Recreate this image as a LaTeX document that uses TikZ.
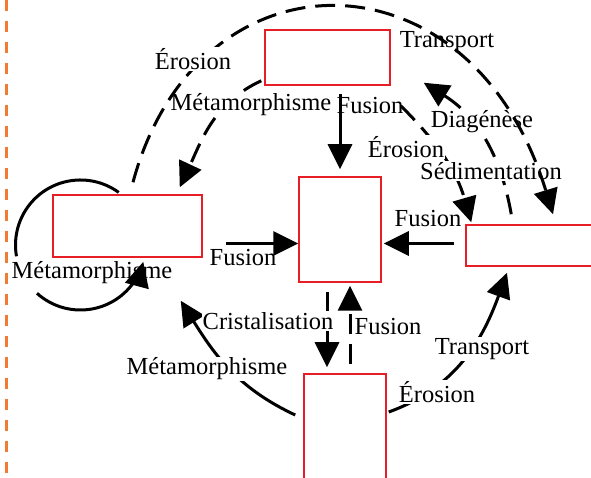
\documentclass[tikz,border=0pt]{standalone}
\usepackage{fontspec}
\setmainfont{Liberation Serif}
\usetikzlibrary{arrows.meta}

\definecolor{rocheRouge}{RGB}{232,30,38}
\definecolor{bordOrange}{RGB}{242,122,50}

\begin{document}
\begin{tikzpicture}[x=1pt,y=1pt,
    roche/.style={draw=rocheRouge, line width=1.5pt, fill=white, inner sep=0pt},
    etiq/.style={inner sep=1pt, font=\fontsize{24.5}{26}\selectfont},
    cache/.style={etiq, fill=white},
    trait/.style={line width=3pt},
    fleche/.style={trait, -{Triangle[length=25pt,width=24pt]}},
    tirets/.style={dash pattern=on 20pt off 10pt}]

    \useasboundingbox (0,0) rectangle (591,478);
    \clip (0,0) rectangle (591,478);

    % Dashed border on the left
    \draw[bordOrange, line width=3pt, dash pattern=on 11pt off 10pt] (6.5,478) -- (6.5,0);

    % Rock boxes
    \foreach \nom/\x/\y/\w/\h in {haut/327.5/420.5/125/55, gauche/127.5/252/149/62,
        centre/340/248.5/82/105, droite/530/232.5/128/41, bas/345/44/82/120} {
        \node[roche, minimum width=\w pt, minimum height=\h pt] (\nom) at (\x,\y) {};
    }

    % Arrows from the top box
    \draw[fleche, tirets] ([xshift=-3pt,yshift=5pt]haut.south west) to[out=205,in=65] ([xshift=-23pt,yshift=7pt]gauche.north east);
    \draw[fleche] ([yshift=82pt]centre.north) -- ([yshift=7pt]centre.north);
    \draw[fleche, tirets] ([xshift=10pt,yshift=-20pt]haut.south east) to[out=-45,in=106] ([xshift=6pt,yshift=2pt]droite.north west);
    \draw[fleche, tirets] ([xshift=46pt,yshift=10pt]droite.north west) to[out=100,in=-32] ([xshift=33pt,yshift=3pt]haut.south east);

    % Fusion into the centre box
    \draw[fleche] ([xshift=-72pt,yshift=-14pt]centre.west) -- ([yshift=-14pt]centre.west);
    \draw[fleche] ([xshift=-11pt,yshift=2pt]droite.west) -- ([xshift=2pt,yshift=-14pt]centre.east);

    % Loop on the left box
    \draw[trait] ([xshift=-47pt,yshift=-19pt]gauche.center) ++(54:65) arc[start angle=54, end angle=190, radius=65pt];
    \draw[fleche] ([xshift=-47pt,yshift=-19pt]gauche.center) ++(228:65) arc[start angle=228, end angle=345, radius=65pt];

    % Centre <-> bottom
    \draw[fleche, tirets] ([xshift=-13pt,yshift=-9pt]centre.south) -- ([xshift=-18pt,yshift=6pt]bas.north);
    \draw[fleche, tirets] ([xshift=5pt,yshift=9pt]bas.north) -- ([xshift=10pt,yshift=-3pt]centre.south);

    % From the bottom box
    \draw[fleche] ([xshift=-8pt,yshift=19pt]bas.west) to[out=155,in=-58] ([xshift=-22pt,yshift=-43pt]gauche.south east);
    \draw[fleche] ([xshift=2pt,yshift=22pt]bas.east) to[out=20,in=-110] ([xshift=-23pt,yshift=-6pt]droite.south);

    % Labels hiding the lines
    \foreach \nom/\x/\y/\t in {metaA/251/373/Métamorphisme, erosionB/406/331/Érosion,
        sedim/491/307/Sédimentation, diag/482/356/Diagénèse, cristal/268/157/Cristalisation,
        metaC/207/109/Métamorphisme, erosionC/437/86/Érosion, transportB/482/129/Transport} {
        \node[cache] (\nom) at (\x,\y) {\t};
    }

    % Big arc over the top
    \draw[fleche, tirets] ([xshift=5.5pt,yshift=12pt]gauche.north) .. controls (197,533) and (471,533) .. ([xshift=23pt,yshift=10pt]droite.north);
    \node[cache] (erosionA) at (193,419) {Érosion};

    % Other labels
    \foreach \nom/\x/\y/\t in {transportA/447/436/Transport, fusionA/370/372/Fusion,
        fusionB/243/220/Fusion, fusionC/428/259/Fusion, metaB/92/205/Métamorphisme,
        fusionD/388/151/Fusion} {
        \node[etiq] (\nom) at (\x,\y) {\t};
    }
\end{tikzpicture}
\end{document}
